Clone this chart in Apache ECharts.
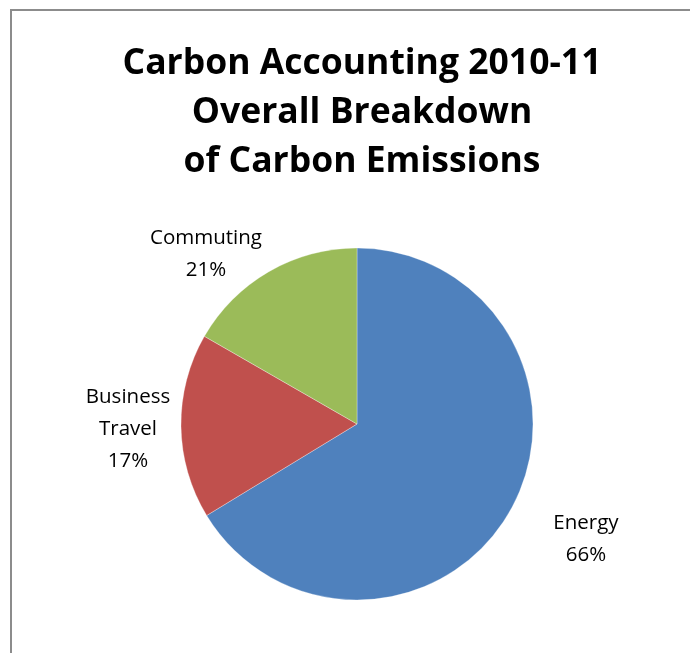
<!DOCTYPE html>
<html><head><meta charset="utf-8">
<script src="https://cdn.jsdelivr.net/npm/echarts@6/dist/echarts.min.js"></script>
<style>html,body{margin:0;padding:0;background:#fff}#c{width:690px;height:653px}</style>
</head><body><div id="c"></div>
<script>
var categories = ['Energy', 'Business Travel', 'Commuting'];
var labelNames = ['Energy', 'Business\nTravel', 'Commuting'];
var values = [66.3, 17.0, 16.7];
var percentLabels = ['66%', '17%', '21%'];
var colors = ['#4F81BD', '#C0504D', '#9BBB59'];
var titleText = 'Carbon Accounting 2010-11\nOverall Breakdown\nof Carbon Emissions';

var chart = echarts.init(document.getElementById('c'));
var labelPos = [[586, 539], [128, 429], [206, 254]];
chart.setOption({
  animation: false,
  title: {
    text: titleText,
    left: 357, top: 34, textAlign: 'center',
    textStyle: {fontFamily: 'Open Sans', fontWeight: 'bold', fontSize: 35.5, lineHeight: 49, color: '#000'}
  },
  graphic: [{
    type: 'rect', shape: {x: 11, y: 10, width: 700, height: 700},
    style: {fill: 'none', stroke: '#8c8c8c', lineWidth: 2}, silent: true, z: -1
  }],
  series: [{
    type: 'pie',
    center: [357, 424],
    radius: 176,
    startAngle: 90,
    clockwise: true,
    data: categories.map(function (c, i) {
      return {name: c, value: values[i], itemStyle: {color: colors[i]}};
    }),
    itemStyle: {borderColor: 'rgba(255,255,255,0.6)', borderWidth: 0.5},
    label: {
      show: true, position: 'outside',
      formatter: function (p) { return labelNames[p.dataIndex] + '\n' + percentLabels[p.dataIndex]; },
      fontFamily: 'Open Sans', fontSize: 20.5, lineHeight: 32, color: '#000', align: 'center'
    },
    labelLine: {show: false},
    labelLayout: function (p) {
      return {x: labelPos[p.dataIndex][0], y: labelPos[p.dataIndex][1], align: 'center', verticalAlign: 'middle'};
    }
  }]
});
</script></body></html>
